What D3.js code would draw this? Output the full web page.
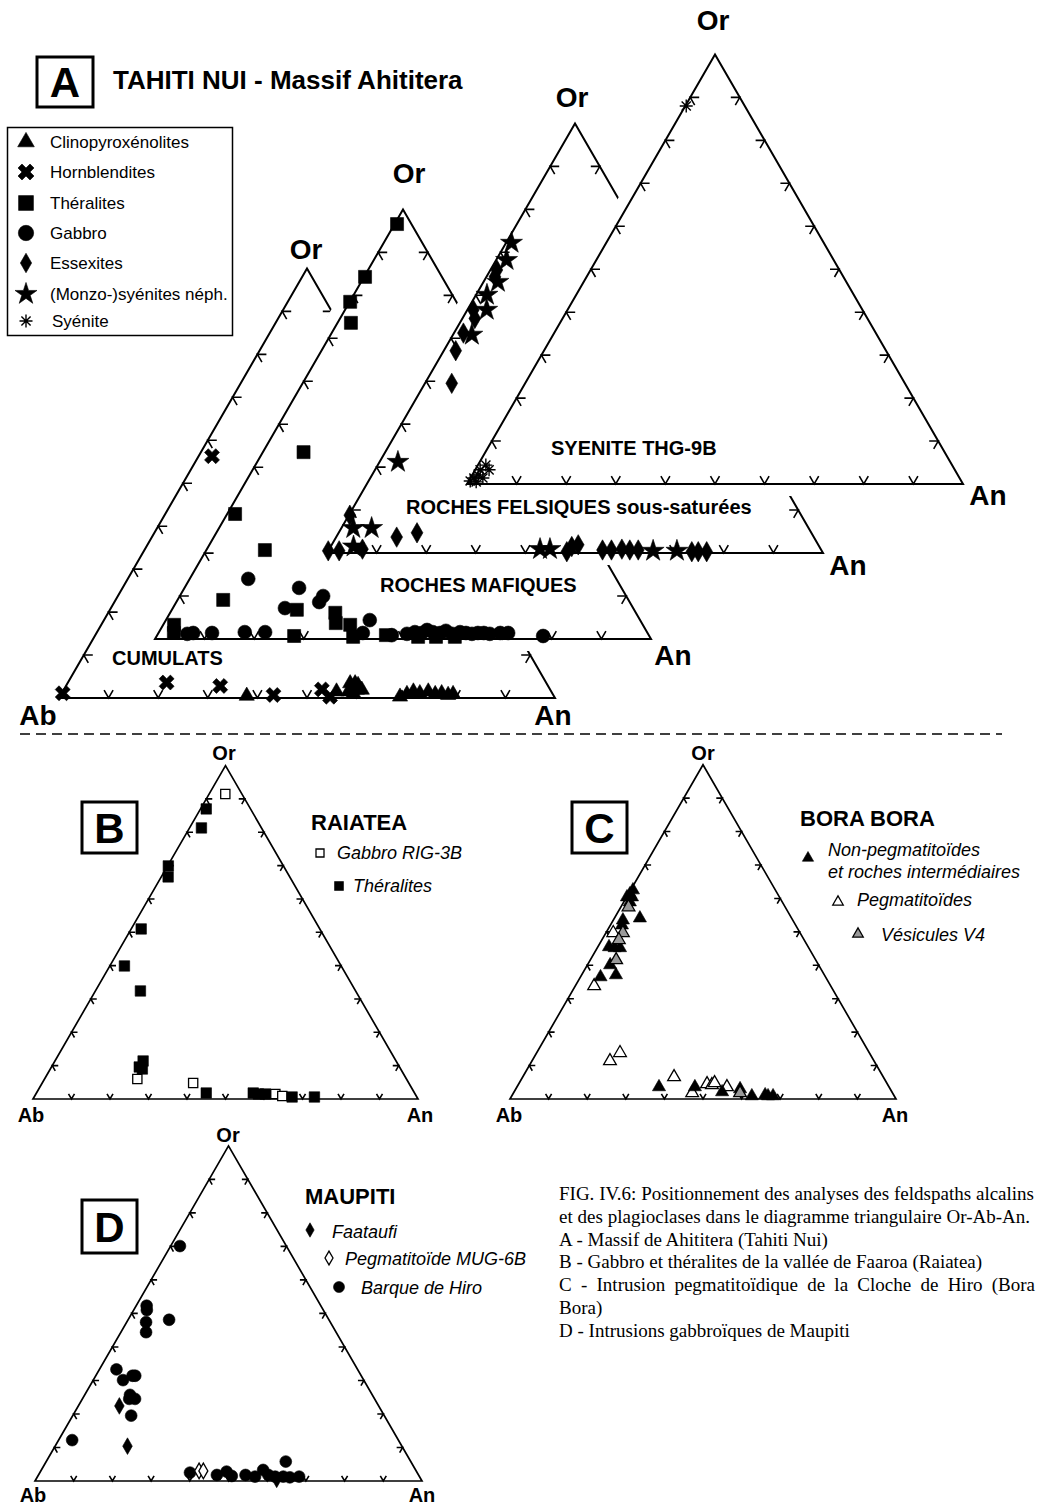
<!DOCTYPE html>
<html>
<head>
<meta charset="utf-8">
<script src="https://cdn.jsdelivr.net/npm/d3@7"></script>
<style>
  body { margin: 0; background: #fff; }
  text { font-family: "Liberation Sans", Arial, sans-serif; fill: #000; }
</style>
</head>
<body>
<script>
var width = 1042,
    height = 1506;

// all points are [An, Or] in %, Ab = 100 - An - Or

// A - Tahiti Nui, cumulats
var cumClinopyroxenolites = [[37.6,0.5],[55.2,1.5],[57.0,3.4],[58.0,3.4],[58.8,3.0],[57.6,1.5],[58.8,1.1],[59.1,1.9],[60.1,1.9],
  [68.6,0.3],[69.7,0.9],[70.7,1.5],[72.2,1.1],[73.7,1.5],[75.4,0.9],[76.6,1.1],[78.1,0.7],[79.0,0.9]];
var cumHornblendites = [[0.2,1.1],[19.9,3.6],[31.1,2.8],[42.9,0.7],[52.0,2.0],[54.5,0.3],[2.7,56.3]];

// A - roches mafiques
var mafTheralites = [[0.5,96.6],[0.2,84.3],[0.1,78.5],[2.7,73.6],[8.2,43.5],[1.6,29.1],[11.8,20.7],[9.2,9.1],[2.2,3.3],[3.1,1.4],
  [27.7,0.7],[25.2,6.8],[33.3,6.1],[34.6,3.7],[37.7,3.3],[39.7,0.5],[46.1,0.9],[52.8,0.5],[56.4,0.5],[60.2,0.5]];
var mafGabbro = [[11.8,14.0],[23.1,11.9],[22.6,7.2],[28.9,10.0],[28.8,8.6],[41.1,4.4],[5.9,1.2],[7.0,1.4],[10.8,1.4],[17.3,1.6],
  [21.4,1.6],[41.2,1.4],[47.3,0.9],[50.2,1.2],[51.6,1.6],[53.1,1.4],[53.8,2.1],[55.2,1.6],[56.8,1.4],[57.7,1.9],[59.3,1.2],
  [60.7,1.6],[62.0,1.4],[63.3,1.2],[64.4,1.4],[65.6,1.4],[66.9,1.2],[68.9,1.4],[70.5,1.4],[77.9,0.7]];

// A - roches felsiques sous-saturees
var felEssexites = [[1.3,65.9],[1.7,64.3],[1.2,56.6],[2.5,54.6],[1.9,51.2],[2.4,47.1],[5.4,39.5],[0.2,8.8],[12.2,3.7],[15.8,4.7],
  [0.0,0.5],[2.2,0.5],[6.7,0.9],[48.2,0.3],[48.6,1.5],[49.7,1.9],[55.2,0.7],[57.0,0.7],[59.0,0.9],[60.7,0.7],[62.4,0.7],
  [73.4,0.3],[74.7,0.3],[76.4,0.3]];
var felSyenitesNeph = [[1.1,72.2],[2.1,68.2],[2.9,63.1],[2.2,60.1],[3.9,56.6],[3.8,50.8],[3.7,21.2],[2.4,5.8],[6.1,5.8],[4.6,1.5],
  [42.5,0.9],[44.5,0.9],[65.5,0.5],[70.3,0.5]];

// A - syenite THG-9B
var syeSyenite = [[0.3,0.7],[0.7,1.4],[1.2,2.1],[1.0,3.3],[1.6,4.4],[2.5,1.4],[2.8,3.3],[1.6,0.5],[0.2,88.0]];

// B - Raiatea
var raiGabbroRIG3B = [[4.2,91.5],[24.1,6.0],[39.2,4.8],[62.2,1.5],[64.3,0.9]];
var raiTheralites = [[1.5,87.0],[3.1,81.3],[0.2,69.9],[1.8,66.6],[2.6,51.0],[3.8,39.9],[11.7,32.4],[22.9,11.4],[22.8,9.6],[23.9,9.0],
  [44.1,1.8],[56.3,1.8],[57.8,1.5],[59.6,1.5],[67.0,0.6],[72.8,0.6]];

// C - Bora Bora
var borNonPegma = [[0.6,62.5],[0.4,61.3],[0.1,60.4],[1.4,60.4],[1.6,58.9],[6.6,54.1],[2.5,53.5],[3.0,52.0],[2.9,45.5],[4.5,45.2],
  [5.9,45.2],[5.9,40.1],[5.2,36.5],[8.9,37.1],[36.8,3.6],[46.1,3.6],[53.9,2.1],[58.1,3.0],[62.2,0.9],[65.5,1.2],[66.4,0.9],[67.7,0.9]];
var borPegma = [[1.9,49.7],[4.9,33.8],[20.2,11.4],[21.6,13.8],[39.2,6.6],[46.3,1.8],[48.8,4.5],[50.2,4.2],[50.6,4.8],[54.4,3.6]];
var borVesicules = [[2.0,57.4],[4.4,49.7],[4.4,47.6],[6.7,41.6],[58.7,1.8]];

// D - Maupiti
var mauFaataufi = [[10.6,22.4],[18.7,10.4],[62.2,0.5]];
var mauPegmaMUG6B = [[40.9,3.0],[42.0,3.0]];
var mauBarqueHiro = [[2.4,70.1],[2.7,52.3],[3.4,51.0],[10.6,48.1],[5.0,47.4],[6.5,44.4],[4.4,33.3],[7.7,30.1],[9.5,31.4],[10.2,31.4],
  [11.7,25.7],[12.1,24.5],[13.6,24.5],[15.1,19.5],[3.5,12.2],[61.9,5.8],[38.8,2.5],[46.1,1.8],[48.1,2.8],[50.1,1.5],[53.5,1.8],
  [56.2,1.3],[57.3,3.3],[59.4,1.8],[61.4,1.3],[63.5,1.3],[65.3,1.1],[67.6,1.3]];

var legendA = ['Clinopyroxénolites', 'Hornblendites', 'Théralites', 'Gabbro', 'Essexites', '(Monzo-)syénites néph.', 'Syénite'];
var regionA = ['CUMULATS', 'ROCHES MAFIQUES', 'ROCHES FELSIQUES sous-saturées', 'SYENITE THG-9B'];
var caption = [
  'FIG. IV.6: Positionnement des analyses des feldspaths alcalins',
  'et des plagioclases dans le diagramme triangulaire Or-Ab-An.',
  'A - Massif de Ahititera (Tahiti Nui)',
  'B - Gabbro et théralites de la vallée de Faaroa (Raiatea)',
  'C - Intrusion pegmatitoïdique de la Cloche de Hiro (Bora',
  'Bora)',
  'D - Intrusions gabbroïques de Maupiti'
];

var svg = d3.select('body')
  .append('svg')
  .attr('width', width)
  .attr('height', height);

svg.append('rect').attr('width', width).attr('height', height).attr('fill', '#fff');

function symPath(name, size) {
  if (name === 'asterisk') {
    var p = '';
    [0, 45, 90, 135].forEach(function(a) {
      var c = Math.cos(a * Math.PI / 180) * size, s = Math.sin(a * Math.PI / 180) * size;
      p += 'M' + c + ',' + s + 'L' + (-c) + ',' + (-s);
    });
    return p;
  }
  var types = {square: d3.symbolSquare, circle: d3.symbolCircle, diamond: d3.symbolDiamond,
    star: d3.symbolStar, triangle: d3.symbolTriangle, x: d3.symbolCross};
  return d3.symbol().type(types[name]).size(size)();
}

function marks(g, pts, name, size, fill) {
  g.append('g').selectAll('path')
    .data(pts)
    .enter()
    .append('path')
    .attr('transform', function(d) { return 'translate(' + d + ')' + (name === 'x' ? ' rotate(45)' : ''); })
    .attr('d', symPath(name, size))
    .attr('fill', name === 'asterisk' ? 'none' : (fill || '#000'))
    .attr('stroke', '#000')
    .attr('stroke-width', name === 'asterisk' ? 1.4 : (fill && fill !== '#000' ? 1.3 : 0.6));
}

function ternary(g, x0, y0, side, tickLen, lineW, mask) {
  var h = side * Math.sqrt(3) / 2;
  var xs = d3.scaleLinear().domain([0, 100]).range([x0, x0 + side]);
  var ys = d3.scaleLinear().domain([0, 100]).range([y0, y0 - h]);
  var proj = function(d) { return [xs(d[0] + d[1] / 2), ys(d[1])]; };
  var corners = [proj([0, 0]), proj([100, 0]), proj([0, 100])];
  if (mask) {
    g.append('polygon').attr('points', corners.join(' '))
      .attr('fill', '#fff').attr('stroke', '#fff').attr('stroke-width', 24).attr('stroke-linejoin', 'round');
  }
  g.append('polygon').attr('points', corners.join(' '))
    .attr('fill', 'none').attr('stroke', '#000').attr('stroke-width', lineW);
  var c = 0.5, s = Math.sqrt(3) / 2, ticks = [];
  d3.range(10, 100, 10).forEach(function(k) {
    ticks.push({p: proj([k, 0]), a: [c, -s], b: [-c, -s]});
    ticks.push({p: proj([0, k]), a: [1, 0], b: [c, s]});
    ticks.push({p: proj([100 - k, k]), a: [-1, 0], b: [-c, s]});
  });
  g.append('g').selectAll('path')
    .data(ticks)
    .enter()
    .append('path')
    .attr('d', function(t) {
      return 'M' + (t.p[0] + tickLen * t.a[0]) + ',' + (t.p[1] + tickLen * t.a[1]) +
        'L' + t.p[0] + ',' + t.p[1] +
        'L' + (t.p[0] + tickLen * t.b[0]) + ',' + (t.p[1] + tickLen * t.b[1]);
    })
    .attr('fill', 'none').attr('stroke', '#000').attr('stroke-width', 1.6);
  return proj;
}

function label(g, txt, x, y, size, opts) {
  opts = opts || {};
  return g.append('text').text(txt)
    .attr('x', x).attr('y', y)
    .attr('font-size', size)
    .attr('font-weight', opts.bold ? 'bold' : 'normal')
    .attr('font-style', opts.italic ? 'italic' : 'normal')
    .attr('text-anchor', opts.anchor || 'start');
}

function letterBox(x, y, w, h, letter) {
  svg.append('rect').attr('x', x).attr('y', y).attr('width', w).attr('height', h)
    .attr('fill', '#fff').attr('stroke', '#000').attr('stroke-width', 3);
  label(svg, letter, x + w / 2, y + h / 2 + 15, 42, {bold: true, anchor: 'middle'});
}

// ---------- panel A ----------
var layoutA = [
  {x0: 59, y0: 698, or: [306, 259], an: [553, 725], reg: [112, 665]},
  {x0: 155, y0: 639, or: [409, 183], an: [673, 665], reg: [380, 592]},
  {x0: 327, y0: 553, or: [572, 107], an: [848, 575], reg: [406, 514]},
  {x0: 467, y0: 484, or: [713, 30], an: [988, 505], reg: [551, 455]}
];
var seriesA = [
  [{pts: cumClinopyroxenolites, sym: 'triangle', size: 100}, {pts: cumHornblendites, sym: 'x', size: 140}],
  [{pts: mafTheralites, sym: 'square', size: 170}, {pts: mafGabbro, sym: 'circle', size: 150}],
  [{pts: felEssexites, sym: 'diamond', size: 120}, {pts: felSyenitesNeph, sym: 'star', size: 150}],
  [{pts: syeSyenite, sym: 'asterisk', size: 6.5}]
];

var panelA = svg.append('g').attr('id', 'panelA');
layoutA.forEach(function(L, i) {
  var g = panelA.append('g');
  var proj = ternary(g, L.x0, L.y0, 496, 9, 2, true);
  seriesA[i].forEach(function(s) { marks(g, s.pts.map(proj), s.sym, s.size); });
  label(g, regionA[i], L.reg[0], L.reg[1], 20, {bold: true});
  label(g, 'Or', L.or[0], L.or[1], 28, {bold: true, anchor: 'middle'});
  label(g, 'An', L.an[0], L.an[1], 28, {bold: true, anchor: 'middle'});
  if (i === 0) label(g, 'Ab', 38, 725, 28, {bold: true, anchor: 'middle'});
});

letterBox(37, 57, 56, 50, 'A');
label(svg, 'TAHITI NUI - Massif Ahititera', 113, 89, 26, {bold: true});

// legend A
var legA = svg.append('g');
legA.append('rect').attr('x', 7.5).attr('y', 127.5).attr('width', 225).attr('height', 208)
  .attr('fill', '#fff').attr('stroke', '#000').attr('stroke-width', 1.5);
var legSyms = [['triangle', 120], ['x', 160], ['square', 220], ['circle', 185], ['diamond', 110], ['star', 150], ['asterisk', 6.5]];
var legY = [142, 172, 203, 233, 263, 294, 321];
legSyms.forEach(function(s, i) {
  marks(legA, [[26, legY[i]]], s[0], s[1]);
  label(legA, legendA[i], i === 6 ? 52 : 50, legY[i] + 6, 17);
});

// separator
svg.append('line').attr('x1', 20).attr('x2', 1002).attr('y1', 734).attr('y2', 734)
  .attr('stroke', '#000').attr('stroke-width', 1.5).attr('stroke-dasharray', '10,6');

// ---------- panel B ----------
var gB = svg.append('g');
var projB = ternary(gB, 33, 1099, 385, 6, 1.7, false);
marks(gB, raiGabbroRIG3B.map(projB), 'square', 85, '#fff');
marks(gB, raiTheralites.map(projB), 'square', 110);
label(gB, 'Or', 224, 760, 20, {bold: true, anchor: 'middle'});
label(gB, 'Ab', 31, 1122, 20, {bold: true, anchor: 'middle'});
label(gB, 'An', 420, 1122, 20, {bold: true, anchor: 'middle'});
letterBox(82, 802, 55, 51, 'B');
label(gB, 'RAIATEA', 311, 830, 22, {bold: true});
marks(gB, [[320, 853]], 'square', 64, '#fff');
label(gB, 'Gabbro RIG-3B', 337, 859, 18, {italic: true});
marks(gB, [[339, 886]], 'square', 80);
label(gB, 'Théralites', 353, 892, 18, {italic: true});

// ---------- panel C ----------
var gC = svg.append('g');
var projC = ternary(gC, 510, 1099, 386, 6, 1.7, false);
marks(gC, borPegma.map(projC), 'triangle', 70, '#fff');
marks(gC, borNonPegma.map(projC), 'triangle', 75);
marks(gC, borVesicules.map(projC), 'triangle', 70, '#999');
label(gC, 'Or', 703, 760, 20, {bold: true, anchor: 'middle'});
label(gC, 'Ab', 509, 1122, 20, {bold: true, anchor: 'middle'});
label(gC, 'An', 895, 1122, 20, {bold: true, anchor: 'middle'});
letterBox(572, 802, 55, 51, 'C');
label(gC, 'BORA BORA', 800, 826, 22, {bold: true});
marks(gC, [[808, 858]], 'triangle', 55);
label(gC, 'Non-pegmatitoïdes', 828, 856, 18, {italic: true});
label(gC, 'et roches intermédiaires', 828, 878, 18, {italic: true});
marks(gC, [[838, 902]], 'triangle', 48, '#fff');
label(gC, 'Pegmatitoïdes', 857, 906, 18, {italic: true});
marks(gC, [[858, 934]], 'triangle', 48, '#999');
label(gC, 'Vésicules V4', 881, 941, 18, {italic: true});

// ---------- panel D ----------
var gD = svg.append('g');
var projD = ternary(gD, 35, 1481, 387, 6, 1.7, false);
marks(gD, mauBarqueHiro.map(projD), 'circle', 110);
marks(gD, mauFaataufi.map(projD), 'diamond', 80);
marks(gD, mauPegmaMUG6B.map(projD), 'diamond', 70, '#fff');
label(gD, 'Or', 228, 1142, 20, {bold: true, anchor: 'middle'});
label(gD, 'Ab', 33, 1502, 20, {bold: true, anchor: 'middle'});
label(gD, 'An', 422, 1502, 20, {bold: true, anchor: 'middle'});
letterBox(82, 1200, 55, 53, 'D');
label(gD, 'MAUPITI', 305, 1204, 22, {bold: true});
marks(gD, [[310, 1230]], 'diamond', 60);
label(gD, 'Faataufi', 332, 1238, 18, {italic: true});
marks(gD, [[329, 1258]], 'diamond', 55, '#fff');
label(gD, 'Pegmatitoïde MUG-6B', 345, 1265, 18, {italic: true});
marks(gD, [[339, 1287]], 'circle', 95);
label(gD, 'Barque de Hiro', 361, 1294, 18, {italic: true});

// ---------- caption ----------
var cap = svg.append('g');
var justifyTo = [475, 471, 0, 0, 476, 0, 0];
caption.forEach(function(t, i) {
  var tx = cap.append('text').text(t)
    .attr('x', 559).attr('y', 1200 + i * 22.8)
    .attr('font-size', 19)
    .style('font-family', '"Liberation Serif", "Times New Roman", serif');
  if (justifyTo[i]) {
    var nat = tx.node().getComputedTextLength();
    if (nat > justifyTo[i]) {
      tx.attr('textLength', justifyTo[i]).attr('lengthAdjust', 'spacingAndGlyphs');
    } else {
      tx.attr('word-spacing', (justifyTo[i] - nat) / (t.split(' ').length - 1));
    }
  }
});
</script>
</body>
</html>
